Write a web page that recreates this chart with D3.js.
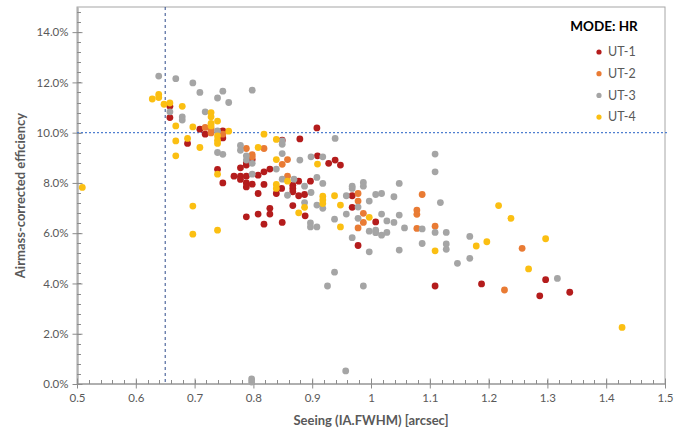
<!DOCTYPE html>
<html><head><meta charset="utf-8">
<script src="https://cdn.jsdelivr.net/npm/d3@7"></script>
<style>
html,body{margin:0;padding:0;background:#fff;}
svg{display:block;font-family:Lato,"Open Sans",sans-serif;}
</style></head>
<body><svg id="c" width="691" height="434"></svg>
<script>
// Seeing [arcsec] and airmass-corrected efficiency [%] per unit telescope
const ut1Seeing = [0.658,0.658,0.688,0.709,0.718,0.748,0.748,0.739,0.748,0.778,0.767,0.778,0.778,0.788,0.788,0.788,0.798,0.808,0.798,0.788,0.788,0.808,0.788,0.808,0.828,0.828,0.818,0.849,0.818,0.828,0.818,0.848,0.839,0.867,0.867,0.867,0.877,0.897,0.877,0.887,0.867,0.888,0.879,0.849,0.908,0.909,0.928,0.939,0.948,0.968,0.968,1.008,0.978,1.109,1.188,1.297,1.287,1.338];
const ut1Eff    = [11.05,10.60,9.57,10.14,9.94,10.07,9.79,8.54,8.00,8.60,8.27,8.27,8.14,8.27,8.00,7.84,7.95,8.31,8.93,8.80,8.71,7.58,6.65,6.76,6.99,6.76,6.36,6.43,8.44,8.55,7.94,7.78,7.58,7.91,7.78,7.65,8.07,8.07,7.49,7.54,7.10,6.69,9.75,9.70,10.19,9.08,8.78,8.91,8.71,7.49,7.03,6.45,5.51,3.90,3.98,4.15,3.51,3.65];

const ut2Seeing = [0.718,0.728,0.728,0.728,0.748,0.788,0.818,0.798,0.798,0.858,0.849,0.858,0.978,0.978,0.987,0.987,0.978,1.087,1.078,1.078,1.078,1.109,1.257,1.227];
const ut2Eff    = [10.21,10.17,10.10,9.99,9.94,9.37,9.37,9.13,9.04,8.93,8.74,8.27,7.58,7.28,6.79,6.43,6.21,7.54,6.92,6.75,6.19,6.28,5.40,3.74];

const ut3Seeing = [0.639,0.668,0.697,0.709,0.748,0.739,0.758,0.798,0.658,0.679,0.679,0.718,0.739,0.739,0.748,0.778,0.778,0.788,0.788,0.798,0.798,0.849,0.849,0.849,0.839,0.879,0.898,0.918,0.939,0.849,0.869,0.908,0.918,0.887,0.858,0.898,0.887,0.908,0.918,0.897,0.897,0.908,0.938,0.958,0.958,0.968,0.968,0.987,0.987,0.978,0.978,0.997,1.008,1.018,1.039,1.048,1.018,1.048,1.027,1.039,0.997,1.008,1.008,1.018,1.027,1.057,1.087,1.109,1.128,1.118,1.109,1.109,0.968,0.997,1.048,1.087,1.128,1.128,1.168,1.147,1.168,1.317,0.987,0.926,0.938,0.797,0.797,0.957];
const ut3Eff    = [12.25,12.15,11.98,11.60,11.65,11.38,11.20,11.69,10.83,10.63,10.50,10.83,10.07,9.21,9.14,9.49,9.30,9.08,8.91,8.78,8.35,9.67,9.54,9.17,8.55,8.91,9.04,9.04,9.77,8.15,8.15,8.22,7.98,7.87,7.51,7.62,7.22,7.12,6.99,6.41,6.25,6.25,6.56,7.49,6.76,7.87,7.78,8.02,7.87,7.04,6.59,7.28,7.54,7.58,7.45,7.98,6.76,6.72,6.49,6.43,6.08,6.12,6.02,5.92,6.03,6.21,6.17,6.03,6.03,7.22,9.15,8.44,5.82,5.26,5.33,5.59,5.57,5.36,5.87,4.80,5.00,4.20,3.90,3.90,4.45,0.20,0.08,0.52];

const ut4Seeing = [0.509,0.628,0.639,0.639,0.648,0.658,0.679,0.668,0.668,0.668,0.688,0.697,0.709,0.697,0.697,0.728,0.728,0.728,0.728,0.739,0.739,0.739,0.739,0.758,0.739,0.739,0.808,0.818,0.839,0.839,0.839,0.839,0.858,0.909,0.887,0.877,0.918,0.918,0.918,0.938,0.948,0.948,0.997,1.109,1.179,1.197,1.217,1.238,1.297,1.268,1.427];
const ut4Eff    = [7.82,11.34,11.52,11.40,11.13,11.18,11.05,10.27,9.67,9.08,9.77,10.23,9.41,7.08,5.96,10.80,10.63,10.37,10.27,10.46,9.87,9.70,9.57,10.06,8.35,6.12,9.41,9.94,9.73,8.93,7.94,7.78,8.07,8.75,7.03,6.81,7.47,7.32,7.18,7.49,7.12,6.25,6.63,5.30,5.49,5.66,7.10,6.59,5.78,4.58,2.25];

const seriesNames  = ["UT-1","UT-2","UT-3","UT-4"];
const seriesColors = ["#B41C1C","#E97B34","#A5A5A5","#FBBF12"];
const xTicks = [0.5,0.6,0.7,0.8,0.9,1.0,1.1,1.2,1.3,1.4,1.5];
const yTicks = [0,2,4,6,8,10,12,14];
const seeingLimit = 0.65;
const effTarget = 10;
const legendTitle = "MODE: HR";
const xTitle = "Seeing (IA.FWHM) [arcsec]";
const yTitle = "Airmass-corrected efficiency";

const series = [
  {name: seriesNames[0], color: seriesColors[0], xs: ut1Seeing, ys: ut1Eff},
  {name: seriesNames[1], color: seriesColors[1], xs: ut2Seeing, ys: ut2Eff},
  {name: seriesNames[2], color: seriesColors[2], xs: ut3Seeing, ys: ut3Eff},
  {name: seriesNames[3], color: seriesColors[3], xs: ut4Seeing, ys: ut4Eff}
];

const svg = d3.select("#c");
const L = 77, R = 665, T = 7, B = 384;
const x = d3.scaleLinear().domain([0.5, 1.5]).range([L, R]);
const y = d3.scaleLinear().domain([0, 15]).range([B, T]);
const axisColor = "#8c8c8c", textColor = "#595959";

// frame
svg.append("rect").attr("x", L).attr("y", T).attr("width", R - L).attr("height", B - T)
  .attr("fill", "none").attr("stroke", "#a6a6a6").attr("stroke-width", 1);

// minor ticks
const xMinor = d3.range(0.5, 1.5001, 0.02);
svg.append("g").selectAll("line").data(xMinor).join("line")
  .attr("x1", d => Math.round(x(d)) + 0.5).attr("x2", d => Math.round(x(d)) + 0.5)
  .attr("y1", B - 4).attr("y2", B).attr("stroke", axisColor);
const yMinor = d3.range(0, 15.001, 0.4);
svg.append("g").selectAll("line").data(yMinor).join("line")
  .attr("x1", L).attr("x2", L + 4)
  .attr("y1", d => Math.round(y(d)) + 0.5).attr("y2", d => Math.round(y(d)) + 0.5).attr("stroke", axisColor);

// axes
const xAxis = d3.axisBottom(x).tickValues(xTicks).tickSizeInner(5).tickSizeOuter(0)
  .tickFormat(d => d === 1 ? "1" : d3.format(".1f")(d));
const gx = svg.append("g").attr("transform", `translate(0,${B - 0.5})`).call(xAxis);
gx.select(".domain").attr("stroke", axisColor);
gx.selectAll(".tick line").attr("stroke", axisColor).attr("y1", -5).attr("y2", 5);
gx.selectAll(".tick text").attr("fill", textColor).attr("font-size", 11.5).attr("dy", "0.9em")
  .attr("font-family", "Lato, 'Open Sans', sans-serif");

const yAxis = d3.axisLeft(y).tickValues(yTicks).tickSizeInner(5).tickSizeOuter(0)
  .tickFormat(d => d3.format(".1f")(d) + "%");
const gy = svg.append("g").attr("transform", `translate(${L + 0.5},0)`).call(yAxis);
gy.select(".domain").attr("stroke", axisColor);
gy.selectAll(".tick line").attr("stroke", axisColor).attr("x1", -5).attr("x2", 5);
gy.selectAll(".tick text").attr("fill", textColor).attr("font-size", 11.5).attr("x", -9)
  .attr("font-family", "Lato, 'Open Sans', sans-serif");

// reference lines
svg.append("line").attr("x1", x(seeingLimit)).attr("x2", x(seeingLimit))
  .attr("y1", T).attr("y2", B).attr("stroke", "#2e4a8a").attr("stroke-width", 1)
  .attr("stroke-dasharray", "3,3");
svg.append("line").attr("x1", L).attr("x2", R + 3)
  .attr("y1", y(effTarget)).attr("y2", y(effTarget)).attr("stroke", "#4f7fd0").attr("stroke-width", 1.3)
  .attr("stroke-dasharray", "2,2");

// points
const gp = svg.append("g");
series.forEach(s => {
  gp.append("g").selectAll("circle").data(s.xs.map((v, i) => [v, s.ys[i]])).join("circle")
    .attr("cx", d => x(d[0])).attr("cy", d => y(d[1])).attr("r", 3.4)
    .attr("fill", s.color);
});

// legend
const lg = svg.append("g");
lg.append("text").attr("x", 604).attr("y", 31).attr("text-anchor", "middle")
  .attr("font-weight", "bold").attr("font-size", 13.5).attr("fill", "#000")
  .attr("font-family", "Lato, 'Open Sans', sans-serif").text(legendTitle);
series.forEach((s, i) => {
  const yy = 52 + i * 21.7;
  lg.append("circle").attr("cx", 599).attr("cy", yy).attr("r", 2.6).attr("fill", s.color);
  lg.append("text").attr("x", 608).attr("y", yy + 4.2).attr("font-size", 12.5).attr("fill", textColor)
    .attr("font-family", "Lato, 'Open Sans', sans-serif").text(s.name);
});

// axis titles
svg.append("text").attr("x", (L + R) / 2).attr("y", 425).attr("text-anchor", "middle")
  .attr("font-weight", "bold").attr("font-size", 13).attr("fill", textColor).text(xTitle);
svg.append("text").attr("transform", `translate(25,${(T + B) / 2}) rotate(-90)`).attr("text-anchor", "middle")
  .attr("font-weight", "bold").attr("font-size", 13).attr("fill", textColor).text(yTitle);
</script></body></html>
